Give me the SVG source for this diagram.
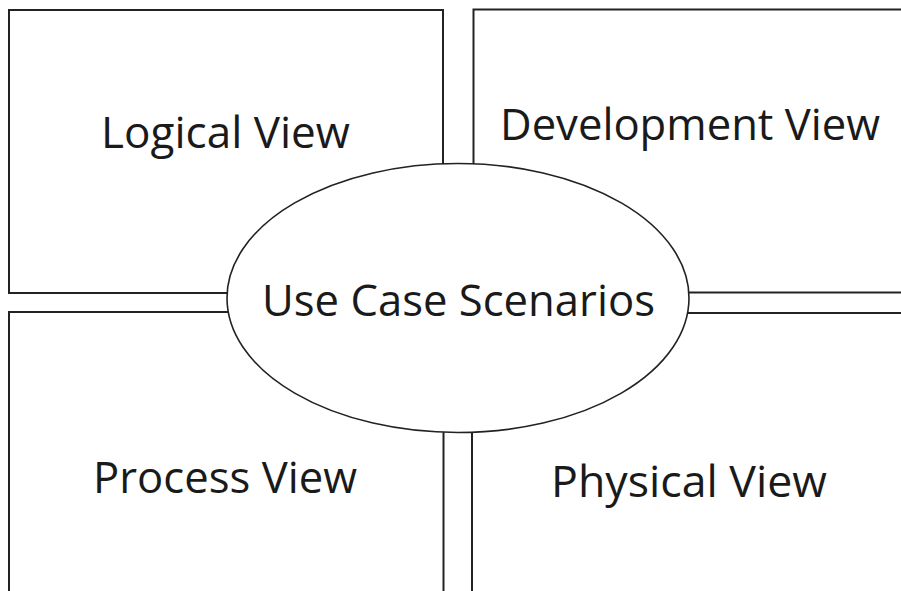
<svg xmlns="http://www.w3.org/2000/svg" width="901" height="591" viewBox="0 0 901 591">
  <style>
    .view { fill: #ffffff; stroke: #222222; stroke-width: 2; }
    .hub { fill: #ffffff; stroke: #222222; stroke-width: 1.6; }
    .label { font-family: "Open Sans", "Liberation Sans", sans-serif; font-size: 44px; fill: #1a1a1a; }
  </style>
  <rect width="901" height="591" fill="#ffffff"/>

  <!-- four views, the right and bottom ones run off the page -->
  <g id="logical-view">
    <rect class="view" x="9" y="10" width="434" height="283"/>
    <text class="label" x="101" y="148" textLength="249" lengthAdjust="spacingAndGlyphs">Logical View</text>
  </g>
  <g id="development-view">
    <rect class="view" x="473.5" y="9.5" width="440" height="283"/>
    <text class="label" x="500" y="140" textLength="380" lengthAdjust="spacingAndGlyphs">Development View</text>
  </g>
  <g id="process-view">
    <rect class="view" x="9" y="312" width="434.5" height="290"/>
    <text class="label" x="93" y="493" textLength="264" lengthAdjust="spacingAndGlyphs">Process View</text>
  </g>
  <g id="physical-view">
    <rect class="view" x="472" y="313" width="440" height="290"/>
    <text class="label" x="551" y="497" textLength="276" lengthAdjust="spacingAndGlyphs">Physical View</text>
  </g>

  <!-- central scenarios ellipse overlapping all four views -->
  <g id="use-case-scenarios">
    <ellipse class="hub" cx="458" cy="298" rx="231" ry="134.5"/>
    <text class="label" x="262" y="316" textLength="393" lengthAdjust="spacingAndGlyphs">Use Case Scenarios</text>
  </g>
</svg>
